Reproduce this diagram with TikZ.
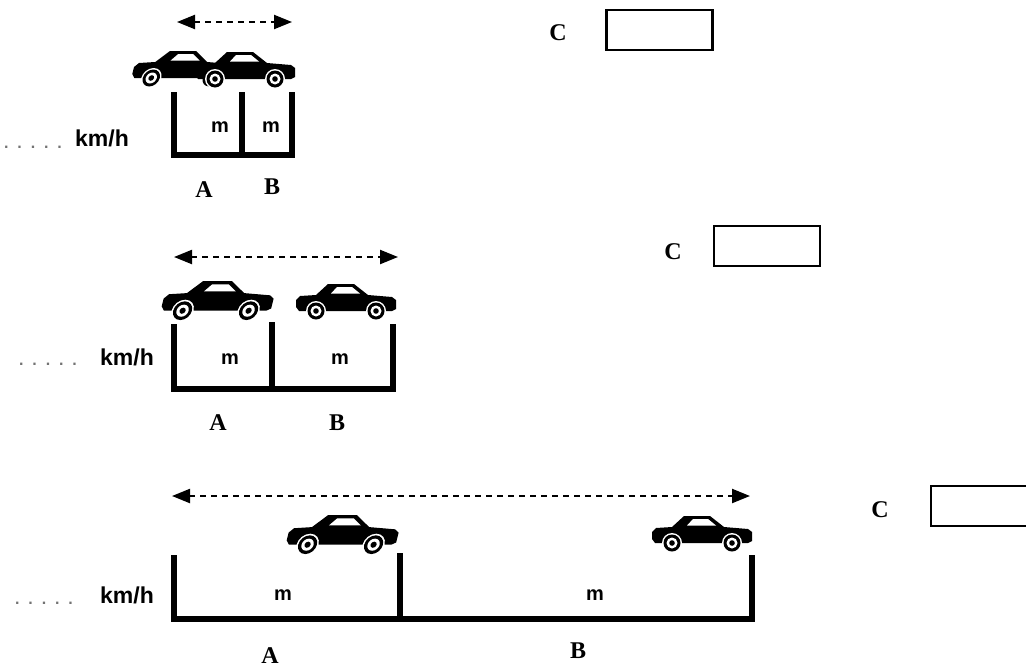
\documentclass[tikz,border=0pt]{standalone}
\usepackage{fontspec}
\setmainfont{Liberation Serif}
\newfontfamily\armfont{Liberation Sans}
\usepackage{tikz}
\usetikzlibrary{arrows.meta,calc,positioning}
\tikzset{
    mywall/.style={line width=2.6pt,draw=black,line join=miter},
    myarrow/.style={line width=1.1pt,dash pattern=on 3pt off 2.5pt,
        {Triangle[length=9pt,width=7pt]}-{Triangle[length=9pt,width=7pt]}},
    mybox/.style={draw=black,line width=1.1pt,minimum width=53pt,minimum height=20pt,inner sep=0pt},
    mylabel/.style={font=\bfseries\fontsize{12}{14}\selectfont},
    mymeter/.style={font=\armfont\bfseries\fontsize{10}{12}\selectfont},
    myspeed/.style={font=\armfont\bfseries\fontsize{11.5}{13}\selectfont},
    mydots/.style={font=\armfont\bfseries\fontsize{8}{10}\selectfont,text=black!55},
    mymoving/.style={xslant=0.25},
    every node/.style={inner sep=1pt},
    % 小汽车：原点在车顶左上角，宽 100
    pics/car/.style={code={
        \fill[black] (0,16) -- (4,12) -- (20,11) -- (32,0) -- (58,0) -- (72,11)
            -- (96,13) -- (100,16) -- (100,25) -- (96,27) -- (3,27) -- (0,23) -- cycle;
        \fill[white] (35,9.5) -- (41,3) -- (56,3) -- (64,9.5) -- cycle;
        \foreach \wx in {20,80}{
            \fill[white] (\wx,27) circle (10);
            \fill[black] (\wx,27) circle (8.5);
            \fill[white] (\wx,27) circle (5.5);
            \fill[black] (\wx,27) circle (2.8);
        }
    }}
}

\begin{document}
\begin{tikzpicture}[x=0.5pt,y=-0.5pt]
    \useasboundingbox (0,0) rectangle (1026,669);
    \clip (0,0) rectangle (1026,669);

    % 第一组
    \coordinate (a1l) at (177,22);
    \coordinate (a1r) at (292,22);
    \draw[myarrow] (a1l) -- (a1r);
    \pic[mymoving] at (138,51) {car};
    \pic at (195,52) {car};
    \draw[mywall] (174,92) -- (174,155) -- (292,155) -- (292,92);
    \draw[mywall] (242,92) -- (242,155);
    \node[mydots] (dot1) at (33,147) {.\ \ .\ \ .\ \ .\ \ .};
    \node[myspeed] (v1) at (102,138) {km/h};
    \node[mymeter] (m1a) at (220,127) {m};
    \node[mymeter] (m1b) at (271,127) {m};
    \node[mylabel] (A1) at (204,190) {A};
    \node[mylabel] (B1) at (272,187) {B};
    \node[mylabel] (C1) at (558,33) {C};
    \node[mybox] (box1) at (659.5,30) {};

    % 第二组
    \coordinate (a2l) at (174,257);
    \coordinate (a2r) at (398,257);
    \draw[myarrow] (a2l) -- (a2r);
    \pic[mymoving,scale=1.1] at (168,281) {car};
    \pic at (296,284) {car};
    \draw[mywall] (174,324) -- (174,389) -- (393,389) -- (393,324);
    \draw[mywall] (272,322) -- (272,389);
    \node[mydots] (dot2) at (48,364) {.\ \ .\ \ .\ \ .\ \ .};
    \node[myspeed] (v2) at (127,357) {km/h};
    \node[mymeter] (m2a) at (230,359) {m};
    \node[mymeter] (m2b) at (340,359) {m};
    \node[mylabel] (A2) at (218,423) {A};
    \node[mylabel] (B2) at (337,423) {B};
    \node[mylabel] (C2) at (673,252) {C};
    \node[mybox] (box2) at (767,246) {};

    % 第三组
    \coordinate (a3l) at (172,496);
    \coordinate (a3r) at (750,496);
    \draw[myarrow] (a3l) -- (a3r);
    \pic[mymoving,scale=1.1] at (293,515) {car};
    \pic at (652,516) {car};
    \draw[mywall] (174,555) -- (174,619) -- (752,619) -- (752,555);
    \draw[mywall] (400,553) -- (400,619);
    \node[mydots] (dot3) at (44,603) {.\ \ .\ \ .\ \ .\ \ .};
    \node[myspeed] (v3) at (127,595) {km/h};
    \node[mymeter] (m3a) at (283,595) {m};
    \node[mymeter] (m3b) at (595,595) {m};
    \node[mylabel] (A3) at (270,656) {A};
    \node[mylabel] (B3) at (578,651) {B};
    \node[mylabel] (C3) at (880,510) {C};
    \node[mybox] (box3) at (984,506) {};
\end{tikzpicture}
\end{document}
